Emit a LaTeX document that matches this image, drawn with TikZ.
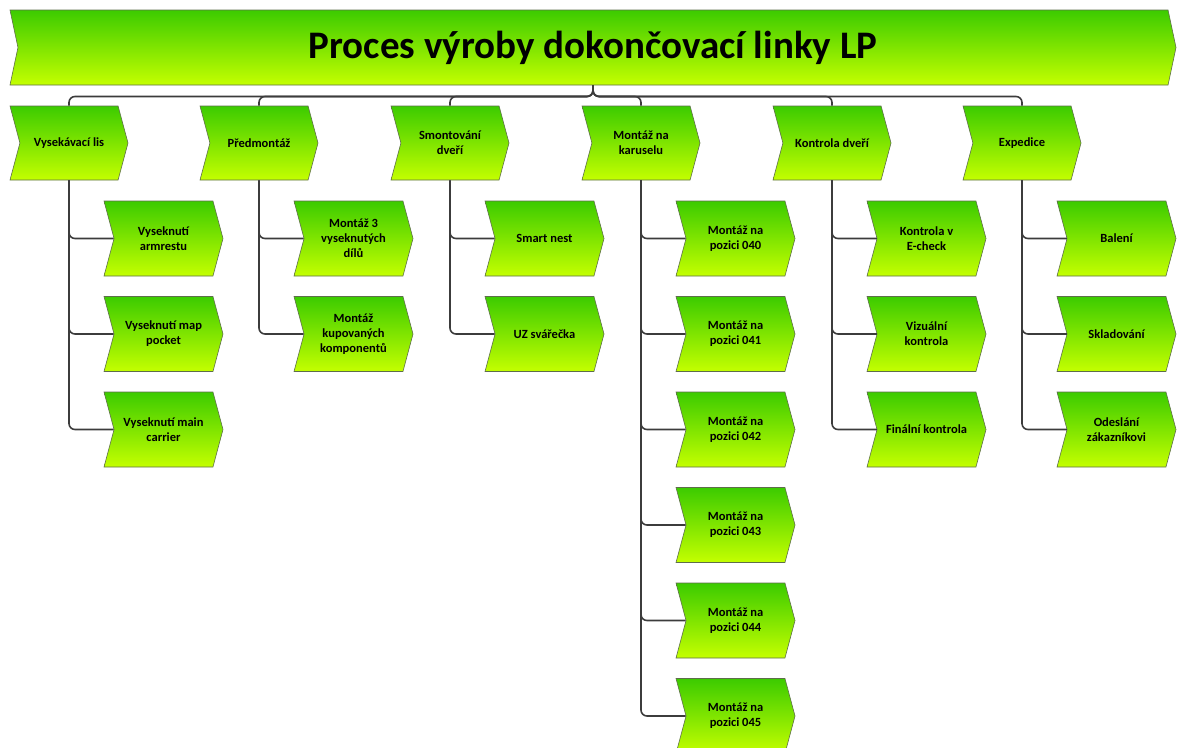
\documentclass[tikz,border=0pt]{standalone}
\usepackage{fontspec}
\setmainfont{Carlito}
\usetikzlibrary{shapes.symbols,positioning}
\definecolor{LeafTop}{HTML}{3CCB00}
\definecolor{LeafBottom}{HTML}{C4FF00}
\definecolor{Edge}{HTML}{5E6E4A}
\definecolor{Wire}{HTML}{3C3C3C}

\begin{document}
\begin{tikzpicture}[
  x=1pt,y=-1pt,
  chevron/.style={shape=signal,signal to=east,signal from=west,
    signal pointer angle=150,draw=Edge,line width=0.6pt,
    top color=LeafTop,bottom color=LeafBottom,
    align=center,inner sep=0pt,font=\bfseries\fontsize{12.5}{15}\selectfont},
  procbox/.style={chevron,signal pointer angle=156,
    minimum width=1166pt,minimum height=75pt,
    font=\bfseries\fontsize{39}{44}\selectfont},
  stagebox/.style={chevron,minimum width=118pt,minimum height=74pt},
  taskbox/.style={chevron,minimum width=119pt,minimum height=75pt},
  link/.style={draw=Wire,line width=1.6pt,rounded corners=6pt}
]
\useasboundingbox (0,0) rectangle (1177,747);
\clip (0,0) rectangle (1177,747);

% Header of the whole process.
\node[procbox] (proces) at (593,47.5) {Proces výroby dokončovací linky LP};
\coordinate (bus) at (593,96.5);

% Main stages.
\node[stagebox] (lis)      at (69,143)   {Vysekávací lis};
\node[stagebox] (predmont) at (259,143)  {Předmontáž};
\node[stagebox] (smont)    at (450,143)  {Smontování\\dveří};
\node[stagebox] (karusel)  at (641,143)  {Montáž na\\karuselu};
\node[stagebox] (kontrola) at (832,143)  {Kontrola dveří};
\node[stagebox] (expedice) at (1022,143) {Expedice};

\foreach \st in {lis,predmont,smont,karusel,kontrola,expedice}
  \draw[link] (proces.south) |- (bus -| \st.north) -- (\st.north);

% Vysekávací lis
\node[taskbox] (armrest) at (163.5,238.5) {Vyseknutí\\armrestu};
\node[taskbox] (mappocket) at (163.5,334) {Vyseknutí map\\pocket};
\node[taskbox] (carrier) at (163.5,429.5) {Vyseknutí main\\carrier};
% Předmontáž
\node[taskbox] (tridily) at (353.5,238.5) {Montáž 3\\vyseknutých\\dílů};
\node[taskbox] (kupovane) at (353.5,334) {Montáž\\kupovaných\\komponentů};
% Smontování dveří
\node[taskbox] (smartnest) at (544.5,238.5) {Smart nest};
\node[taskbox] (uzsvarecka) at (544.5,334) {UZ svářečka};
% Montáž na karuselu
\node[taskbox] (poz040) at (735.5,238.5) {Montáž na\\pozici 040};
\node[taskbox] (poz041) at (735.5,334)   {Montáž na\\pozici 041};
\node[taskbox] (poz042) at (735.5,429.5) {Montáž na\\pozici 042};
\node[taskbox] (poz043) at (735.5,525)   {Montáž na\\pozici 043};
\node[taskbox] (poz044) at (735.5,620.5) {Montáž na\\pozici 044};
\node[taskbox] (poz045) at (735.5,716)   {Montáž na\\pozici 045};
% Kontrola dveří
\node[taskbox] (echeck) at (926.5,238.5) {Kontrola v\\E-check};
\node[taskbox] (vizualni) at (926.5,334) {Vizuální\\kontrola};
\node[taskbox] (finalni) at (926.5,429.5) {Finální kontrola};
% Expedice
\node[taskbox] (baleni) at (1116.5,238.5) {Balení};
\node[taskbox] (sklad) at (1116.5,334) {Skladování};
\node[taskbox] (odeslani) at (1116.5,429.5) {Odeslání\\zákazníkovi};

\foreach \st/\tk in {lis/armrest,lis/mappocket,lis/carrier,
    predmont/tridily,predmont/kupovane,smont/smartnest,smont/uzsvarecka,
    karusel/poz040,karusel/poz041,karusel/poz042,karusel/poz043,
    karusel/poz044,karusel/poz045,kontrola/echeck,kontrola/vizualni,
    kontrola/finalni,expedice/baleni,expedice/sklad,expedice/odeslani}
  \draw[link] (\st.south) |- (\tk.west);
\end{tikzpicture}
\end{document}
